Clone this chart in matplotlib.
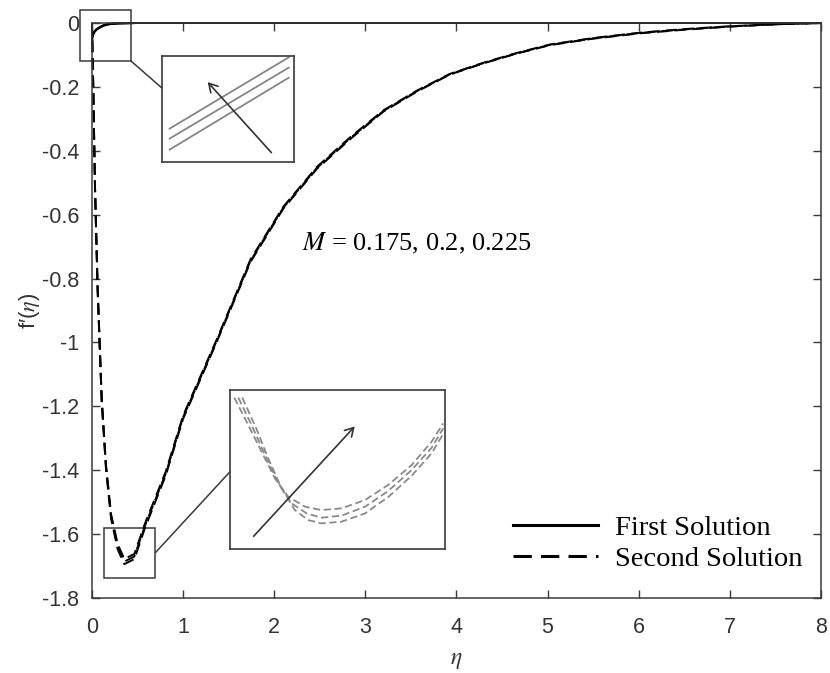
import numpy as np
import matplotlib.pyplot as plt
from matplotlib.patches import Rectangle, ConnectionPatch

plt.rcParams['mathtext.fontset'] = 'stix'

# ---- data ----
M_values = [0.175, 0.2, 0.225]

# first solution (solid), stays close to zero
eta1 = [0, 0.003, 0.02, 0.05, 0.09, 0.124, 0.17, 0.216, 0.3, 0.5, 1, 2, 4, 6, 8]
f1_m1 = [-0.072, -0.047, -0.031, -0.021, -0.014, -0.009, -0.005, -0.003, -0.001, 0, 0, 0, 0, 0, 0]
f1_m2 = [-0.070, -0.045, -0.030, -0.020, -0.013, -0.008, -0.004, -0.002, -0.001, 0, 0, 0, 0, 0, 0]
f1_m3 = [-0.068, -0.043, -0.029, -0.019, -0.012, -0.007, -0.004, -0.002, -0.001, 0, 0, 0, 0, 0, 0]

# second solution (dashed), deep dip near eta = 0.36
eta2 = [0, 0.014, 0.033, 0.062, 0.107, 0.154, 0.21, 0.283, 0.355, 0.465, 0.58, 0.81,
        1.0, 1.37, 1.74, 2.10, 2.47, 2.84, 3.20, 3.57, 3.93, 4.30, 4.67, 5.03, 5.5,
        6.02, 6.5, 7.0, 7.5, 8.0]
f2_m1 = [0, -0.203, -0.515, -0.835, -1.186, -1.397, -1.552, -1.648, -1.694, -1.678, -1.582, -1.416,
         -1.239, -0.998, -0.748, -0.581, -0.456, -0.362, -0.277, -0.214, -0.161, -0.126, -0.095,
         -0.069, -0.049, -0.032, -0.021, -0.011, -0.004, 0]
f2_m2 = [0, -0.200, -0.510, -0.830, -1.180, -1.390, -1.545, -1.640, -1.686, -1.670, -1.575, -1.410,
         -1.234, -0.994, -0.744, -0.578, -0.453, -0.359, -0.275, -0.2125, -0.160, -0.125, -0.094,
         -0.068, -0.048, -0.031, -0.020, -0.011, -0.004, 0]
f2_m3 = [0, -0.197, -0.505, -0.825, -1.174, -1.383, -1.538, -1.632, -1.678, -1.662, -1.568, -1.404,
         -1.229, -0.990, -0.740, -0.575, -0.450, -0.356, -0.273, -0.211, -0.159, -0.124, -0.093,
         -0.067, -0.047, -0.030, -0.019, -0.010, -0.004, 0]

# zoomed inset curves, in inset units (0..1)
top_u = [0.058, 0.96]
top_v1 = [0.315, 0.987]
top_v2 = [0.221, 0.890]
top_v3 = [0.117, 0.795]

bot_uA = [0.020, 0.085, 0.147, 0.209, 0.271, 0.349, 0.426, 0.519, 0.628, 0.736, 0.845, 0.938, 0.992]
bot_vA = [0.952, 0.780, 0.612, 0.444, 0.329, 0.266, 0.245, 0.256, 0.308, 0.403, 0.528, 0.675, 0.790]
bot_uB = [0.039, 0.104, 0.163, 0.225, 0.287, 0.357, 0.426, 0.519, 0.628, 0.736, 0.845, 0.938, 0.992]
bot_vB = [0.952, 0.769, 0.591, 0.413, 0.287, 0.224, 0.197, 0.210, 0.266, 0.365, 0.497, 0.637, 0.759]
bot_uC = [0.057, 0.122, 0.178, 0.240, 0.302, 0.364, 0.426, 0.519, 0.628, 0.736, 0.845, 0.938, 0.992]
bot_vC = [0.952, 0.759, 0.570, 0.382, 0.245, 0.182, 0.161, 0.172, 0.224, 0.327, 0.461, 0.602, 0.725]

xticks = [0, 1, 2, 3, 4, 5, 6, 7, 8]
yticks = [0, -0.2, -0.4, -0.6, -0.8, -1, -1.2, -1.4, -1.6, -1.8]
ytick_labels = ['0', '-0.2', '-0.4', '-0.6', '-0.8', '-1', '-1.2', '-1.4', '-1.6', '-1.8']

spine_c = '#3a3a3a'
txt_c = '#333333'
serif = ['Liberation Serif', 'DejaVu Serif']
sans = ['Liberation Sans', 'DejaVu Sans']

fig = plt.figure(figsize=(8.3, 6.73), dpi=100)
ax = fig.add_axes([0.1108, 0.1114, 0.8783, 0.8544])

for f in [f1_m1, f1_m2, f1_m3]:
    l1, = ax.plot(eta1, f, color='black', lw=1.4, clip_on=False)
for f in [f2_m1, f2_m2, f2_m3]:
    l2, = ax.plot(eta2, f, color='black', lw=1.4, ls=(0, (6, 3)), clip_on=False)

ax.set_xlim(0, 8)
ax.set_ylim(-1.8, 0)
ax.set_xticks(xticks)
ax.set_yticks(yticks)
ax.set_yticklabels(ytick_labels)
ax.tick_params(direction='in', length=5.5, width=1.0, color=spine_c, labelsize=15.5,
               labelcolor=txt_c, top=True, right=True)
ax.tick_params(axis='x', pad=14)
ax.tick_params(axis='y', pad=9)
for s in ax.spines.values():
    s.set_color(spine_c)
    s.set_linewidth(1.1)
for lab in ax.get_xticklabels() + ax.get_yticklabels():
    lab.set_family(sans)

ax.set_xlabel(r'$\eta$', fontsize=17, color=txt_c, labelpad=6)
ax.set_ylabel('f\u2032(' + r'$\eta$' + ')', fontsize=16, color=txt_c, labelpad=0,
              family=sans)

ax.text(2.31, -0.69, r'$M$' + ' = 0.175, 0.2, 0.225', fontsize=19, family=serif,
        va='center', ha='left', color='black')

leg = ax.legend([l1, l2], ['First Solution', 'Second Solution'], loc='lower right',
                bbox_to_anchor=(1.01, 0.0), frameon=False, handlelength=3.0,
                handletextpad=0.6, labelspacing=0.2, prop={'family': serif, 'size': 20.5})
for h in leg.legend_handles:
    h.set_linewidth(2.2)

# small boxes around zoomed regions
box_top = Rectangle((-0.132, -0.119), 0.561, 0.159, fill=False, ec=spine_c, lw=1.1, clip_on=False)
box_bot = Rectangle((0.135, -1.737), 0.561, 0.157, fill=False, ec=spine_c, lw=1.1, clip_on=False)
ax.add_patch(box_top)
ax.add_patch(box_bot)

# insets
ins1 = fig.add_axes([0.1952, 0.7593, 0.159, 0.1575])
ins2 = fig.add_axes([0.2771, 0.1842, 0.259, 0.2363])
for ins in [ins1, ins2]:
    ins.set_xlim(0, 1)
    ins.set_ylim(0, 1)
    ins.set_xticks([])
    ins.set_yticks([])
    for s in ins.spines.values():
        s.set_color(spine_c)
        s.set_linewidth(1.2)

for v in [top_v1, top_v2, top_v3]:
    ins1.plot(top_u, v, color='#858585', lw=1.3)
ins1.annotate('', xy=(0.332, 0.773), xytext=(0.843, 0.069),
              arrowprops=dict(arrowstyle='->,head_length=0.6,head_width=0.35', color='#333333', lw=1.2))

for u, v in [(bot_uA, bot_vA), (bot_uB, bot_vB), (bot_uC, bot_vC)]:
    ins2.plot(u, v, color='#8a8a8a', lw=1.3, ls=(0, (4, 2)))
ins2.annotate('', xy=(0.589, 0.784), xytext=(0.101, 0.067),
              arrowprops=dict(arrowstyle='->,head_length=0.6,head_width=0.35', color='#333333', lw=1.2))

# connector lines
c1 = ConnectionPatch(xyA=(0.429, -0.119), coordsA=ax.transData, xyB=(0, 0.697),
                     coordsB=ins1.transAxes, color=spine_c, lw=1.1)
c2 = ConnectionPatch(xyA=(0.696, -1.658), coordsA=ax.transData, xyB=(0, 0.486),
                     coordsB=ins2.transAxes, color=spine_c, lw=1.1)
fig.add_artist(c1)
fig.add_artist(c2)

fig.savefig('out.png', dpi=100)
